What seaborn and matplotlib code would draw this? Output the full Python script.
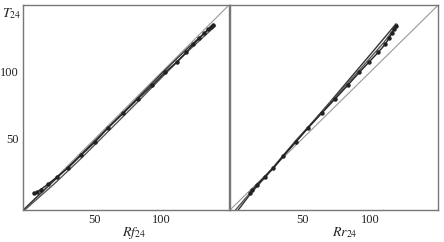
import numpy as np
import pandas as pd
import matplotlib
matplotlib.use("Agg")
import matplotlib.pyplot as plt
import seaborn as sns

# ---- data ----
diag = [-3, 150]

left_dots_x = [5.2, 6.9, 9.9, 15.1, 21.8, 30.5, 39.9, 50.1, 60.2, 71.4, 82.1, 92.9,
               102.4, 111.1, 118.2, 123.4, 127.9, 131.4, 134.6, 136.6, 138.3]
left_dots_y = [9.4, 10.2, 12.2, 16.2, 21.4, 28.6, 37.8, 47.5, 58.4, 69.2, 79.8, 90.0,
               99.7, 107.4, 114.7, 120.6, 125.1, 128.8, 132.1, 133.8, 135.3]
left_b_x = [-3, 20, 40, 60, 80, 100, 120, 139]
left_b_y = [-3, 19, 38.5, 58.5, 78.5, 99, 118.5, 135.5]
left_c_x = [-2, 20, 40, 60, 80, 100, 120, 140]
left_c_y = [-3, 16.5, 35.5, 55.5, 75.5, 96, 116, 134.5]

right_dots_x = [11.7, 13.4, 16.6, 22.7, 28.8, 36.2, 45.5, 54.5, 64.3, 74.1, 83.4, 92.0,
                99.1, 105.9, 110.9, 113.8, 115.8, 117.5, 118.7]
right_dots_y = [9.9, 11.9, 15.7, 21.9, 28.1, 37.5, 48.0, 58.4, 69.2, 79.8, 90.0, 99.7,
                107.4, 114.7, 120.6, 125.1, 128.8, 132.1, 134.5]
right_b_x = [3, 12, 25, 45, 70, 90, 105, 119]
right_b_y = [-3, 9, 24, 47.5, 77, 101, 119, 136]
right_c_x = [1, 12, 25, 45, 70, 90, 110, 120]
right_c_y = [-3, 10, 24.5, 48.5, 76.5, 99, 122, 135.5]

ticks = [50, 100]
tick_labels = ["50", "100"]

sns.set_style("white")
plt.rcParams["font.family"] = ["Liberation Serif", "DejaVu Serif"]
plt.rcParams["mathtext.fontset"] = "stix"

fig = plt.figure(figsize=(4.44, 2.42), dpi=100)
axL = fig.add_axes([23.3 / 444, 1 - 210 / 242, 205.7 / 444, 205 / 242])
axR = fig.add_axes([230 / 444, 1 - 210 / 242, 208.3 / 444, 205 / 242])

def draw(ax, dx, dy, bx, by, cx, cy):
    sns.lineplot(x=diag, y=diag, ax=ax, color="#999999", lw=0.8, estimator=None, sort=False)
    sns.lineplot(x=bx, y=by, ax=ax, color="#333333", lw=1.0, estimator=None, sort=False)
    sns.lineplot(x=cx, y=cy, ax=ax, color="#555555", lw=1.0, estimator=None, sort=False)
    sns.lineplot(x=dx, y=dy, ax=ax, color="#222222", lw=1.0, marker="o", markersize=3.2,
                 markeredgewidth=0, estimator=None, sort=False)
    ax.set_xlim(-3, 150)
    ax.set_ylim(-3, 150)
    ax.set_xticks(ticks)
    ax.set_xticklabels(tick_labels)
    ax.set_yticks(ticks)
    ax.tick_params(direction="in", length=4, width=0.8, color="#555555",
                   labelsize=9, labelcolor="#222222", pad=3)
    for s in ax.spines.values():
        s.set_color("#777777")
        s.set_linewidth(1.0)

draw(axL, left_dots_x, left_dots_y, left_b_x, left_b_y, left_c_x, left_c_y)
draw(axR, right_dots_x, right_dots_y, right_b_x, right_b_y, right_c_x, right_c_y)

axL.set_yticklabels(tick_labels)
axR.set_yticklabels([])

axL.set_xlabel(r"$Rf_{\mathrm{24}}$", fontsize=10, color="#222222")
axL.xaxis.set_label_coords(0.538, -0.075)
axR.set_xlabel(r"$Rr_{\mathrm{24}}$", fontsize=10, color="#222222")
axR.xaxis.set_label_coords(0.552, -0.075)
axL.set_ylabel(r"$T_{\mathrm{24}}$", fontsize=10, color="#222222", rotation=0)
axL.yaxis.set_label_coords(-0.055, 0.92)

fig.savefig("out.png", dpi=100)
